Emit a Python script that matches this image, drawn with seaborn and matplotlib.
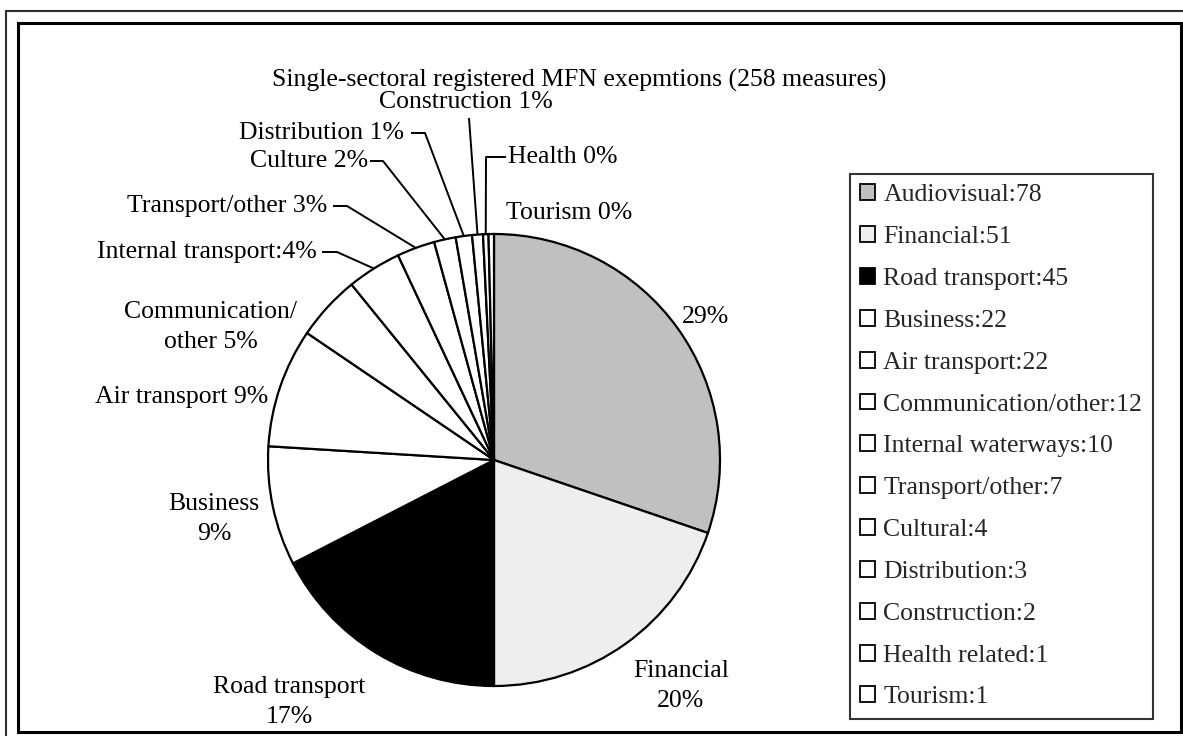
import matplotlib
matplotlib.use("Agg")
import matplotlib.pyplot as plt
import seaborn as sns
from matplotlib.patches import Rectangle
import numpy as np

# ---------------- data ----------------
categories = ["Audiovisual", "Financial", "Road transport", "Business", "Air transport",
              "Communication/other", "Internal waterways", "Transport/other", "Cultural",
              "Distribution", "Construction", "Health related", "Tourism"]
measures = [78, 51, 45, 22, 22, 12, 10, 7, 4, 3, 2, 1, 1]
slice_labels = ["29%", "Financial\n20%", "Road transport\n17%", "Business\n9%",
                "Air transport 9%", "Communication/\nother 5%", "Internal transport:4%",
                "Transport/other 3%", "Culture 2%", "Distribution 1%", "Construction 1%",
                "Health 0%", "Tourism 0%"]
slice_colors = ["#c0c0c0", "#eeeeee", "#000000"] + ["#ffffff"] * 10
title = "Single-sectoral registered MFN exepmtions (258 measures)"

# ---------------- layout (pixels, y measured from top) ----------------
W, H = 1183, 736
FS = 18.5


def Y(y):
    return H - y


label_layout = {
    0: dict(xy=(706, 317), ha="center"),
    1: dict(xy=(681, 686), ha="center"),
    2: dict(xy=(289, 702), ha="center"),
    3: dict(xy=(214, 519), ha="center"),
    4: dict(xy=(268, 397), ha="right"),
    5: dict(xy=(211, 327), ha="center"),
    6: dict(xy=(317, 252), ha="right", leader=[(322, 252), (337, 252)]),
    7: dict(xy=(327, 206), ha="right", leader=[(333, 206), (347, 206)]),
    8: dict(xy=(368, 161), ha="right", leader=[(370, 161), (383, 161)]),
    9: dict(xy=(404, 133), ha="right", leader=[(411, 133), (425, 133)]),
    10: dict(xy=(466, 102), ha="center", leader=[(469, 118)]),
    11: dict(xy=(508, 157), ha="left", leader=[(506, 157), (486, 157)]),
    12: dict(xy=(506, 213), ha="left"),
}

sns.set_theme(style="white")
plt.rcParams["font.family"] = ["Liberation Serif", "DejaVu Serif"]

fig = plt.figure(figsize=(W / 100, H / 100), dpi=100)
fig.patch.set_facecolor("white")
ax = fig.add_axes([0, 0, 1, 1])

wedges, _ = ax.pie(measures, colors=slice_colors, startangle=90, counterclock=False,
                   center=(494, Y(460)), radius=226, frame=True,
                   wedgeprops=dict(edgecolor="black", linewidth=1.6))
ax.set_xlim(0, W)
ax.set_ylim(0, H)
ax.set_aspect("equal")
ax.axis("off")

# slice labels + leader lines
for i, (w, lab) in enumerate(zip(wedges, slice_labels)):
    lay = label_layout[i]
    x, y = lay["xy"]
    ax.text(x, Y(y), lab, ha=lay["ha"], va="center", fontsize=FS, color="black",
            multialignment="center", linespacing=1.48)
    if "leader" in lay:
        mid = np.deg2rad((w.theta1 + w.theta2) / 2)
        ex = w.center[0] + w.r * np.cos(mid)
        ey = w.center[1] + w.r * np.sin(mid)
        xs = [p[0] for p in lay["leader"]] + [ex]
        ys = [Y(p[1]) for p in lay["leader"]] + [ey]
        ax.plot(xs, ys, color="black", lw=1.4, solid_capstyle="butt")

# title
ax.text(272, Y(80), title, ha="left", va="center", fontsize=FS, color="black")

# legend
legend_labels = [f"{c}:{v}" for c, v in zip(categories, measures)]
leg = ax.legend(wedges, legend_labels, loc="upper left",
                bbox_to_anchor=(850, Y(174)), bbox_transform=ax.transData,
                borderaxespad=0, frameon=True, fancybox=False, shadow=False,
                fontsize=FS, handlelength=0.58, handleheight=0.58,
                handletextpad=0.32, labelspacing=0.77, borderpad=0.4)
leg.get_frame().set_edgecolor("black")
leg.get_frame().set_linewidth(1.5)
leg.get_frame().set_facecolor("white")
for h in leg.legend_handles:
    h.set_linewidth(1.3)

# chart frames (double border)
ax.add_patch(Rectangle((6, Y(1200)), 1400, 1200 - 11, fill=False,
                       edgecolor="#303030", lw=1.5, clip_on=True))
ax.add_patch(Rectangle((18, Y(732)), 1181 - 18, 732 - 23, fill=False,
                       edgecolor="black", lw=2.2, clip_on=True))

fig.savefig("out.png", dpi=100)
